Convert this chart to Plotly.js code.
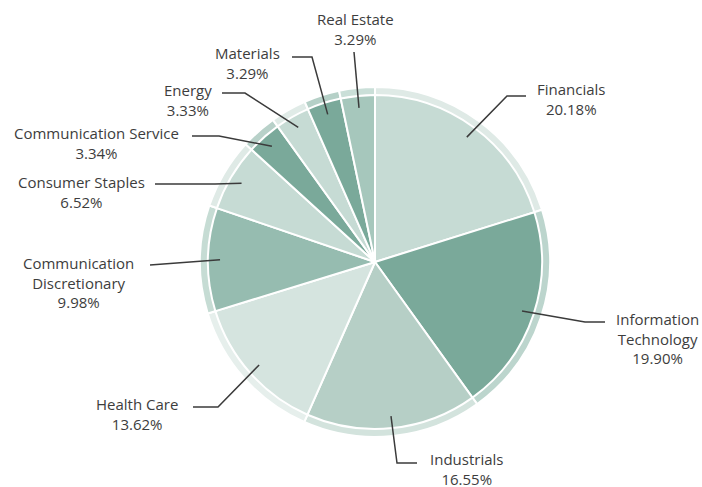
<!DOCTYPE html>
<html>
<head>
<meta charset="utf-8">
<script src="https://cdn.plot.ly/plotly-3.0.1.min.js"></script>
<style>html,body{margin:0;padding:0;background:#fff;}#chart{width:702px;height:487px;}</style>
</head>
<body>
<div id="chart"></div>
<script>
// ---- data ----
const sectors = ["Financials","Information Technology","Industrials","Health Care","Communication Discretionary","Consumer Staples","Communication Service","Energy","Materials","Real Estate"];
const labelTexts = ["Financials","Information<br>Technology","Industrials","Health Care","Communication<br>Discretionary","Consumer Staples","Communication Service","Energy","Materials","Real Estate"];
const weights = [20.18, 19.90, 16.55, 13.62, 9.98, 6.52, 3.34, 3.33, 3.29, 3.29];

// ---- styles ----
const innerColors = ["#c6dbd4","#7aa99a","#b6cfc6","#d5e4df","#96bcb0","#c6dbd4","#7aa99a","#c6dbd4","#7aa99a","#a6c7bc"];
const bandColors  = ["#dfeae6","#bcd5cd","#d3e3dd","#e6efec","#c6dcd4","#dfeae6","#b8d1c9","#e0ebe7","#b5d0c7","#cadfd8"];

const W = 702, H = 487;
const CX = 375, CY = 262, R_OUT = 175, R_IN = 167, R_DOT = 155;

// label layout: text block centre (x, y) and leader path points (start, elbow) in px
const labelPos = [
  {x:571, y:98.5, pts:[[526,96],[507,96]]},
  {x:657, y:338.5, pts:[[605,322],[585,322]]},
  {x:466, y:469, pts:[[417,463],[397,463]]},
  {x:137, y:413.5, pts:[[193,407],[218,407]]},
  {x:78,  y:282, pts:[[150,265]]},
  {x:81,  y:191.5, pts:[[155,184],[215,184]]},
  {x:96,  y:143, pts:[[192,136],[219,136]]},
  {x:188, y:100, pts:[[222,93],[245,93]]},
  {x:247, y:63, pts:[[292,57],[312,57]]},
  {x:355, y:29, pts:[[354,52]]}
];

function dom(r){
  return {x:[(CX-r)/W,(CX+r)/W], y:[(H-CY-r)/H,(H-CY+r)/H]};
}

const total = weights.reduce((a,b)=>a+b,0);
let cum = 0;
const dotX = [], dotY = [];
weights.forEach(v=>{
  const mid = (cum + v/2)/total*2*Math.PI;
  dotX.push(CX + R_DOT*Math.sin(mid));
  dotY.push(CY - R_DOT*Math.cos(mid));
  cum += v;
});

const pieCommon = {
  type:'pie', labels:sectors, values:weights, sort:false, direction:'clockwise', rotation:0,
  textinfo:'none', hoverinfo:'label+percent', showlegend:false
};
const traces = [
  Object.assign({}, pieCommon, {domain:dom(R_OUT), marker:{colors:bandColors, line:{color:'#ffffff', width:2}}}),
  Object.assign({}, pieCommon, {domain:dom(R_IN), marker:{colors:innerColors, line:{color:'#ffffff', width:2}}}),
  {type:'scatter', mode:'markers', x:dotX, y:dotY, marker:{size:9, color:'#3b3b3b'}, hoverinfo:'skip', showlegend:false}
];

const shapes = [], annotations = [];
labelPos.forEach((lp,i)=>{
  const pts = lp.pts.concat([[dotX[i],dotY[i]]]);
  const path = 'M' + pts.map(p=>p[0]+','+p[1]).join(' L');
  shapes.push({type:'path', xref:'x', yref:'y', path:path, line:{color:'#3b3b3b', width:1.5}, layer:'above'});
  annotations.push({xref:'x', yref:'y', x:lp.x, y:lp.y, text:labelTexts[i]+'<br>'+weights[i].toFixed(2)+'%',
    showarrow:false, xanchor:'center', yanchor:'middle', align:'center', borderpad:0,
    font:{family:'Open Sans, sans-serif', size:15, color:'#3d3d3d'}});
});

const layout = {
  width:W, height:H, margin:{l:0,r:0,t:0,b:0},
  paper_bgcolor:'#ffffff', plot_bgcolor:'rgba(0,0,0,0)',
  xaxis:{range:[0,W], visible:false, fixedrange:true, domain:[0,1]},
  yaxis:{range:[H,0], visible:false, fixedrange:true, domain:[0,1]},
  shapes:shapes, annotations:annotations, showlegend:false
};
Plotly.newPlot('chart', traces, layout, {displayModeBar:false, staticPlot:true});
</script>
</body>
</html>
